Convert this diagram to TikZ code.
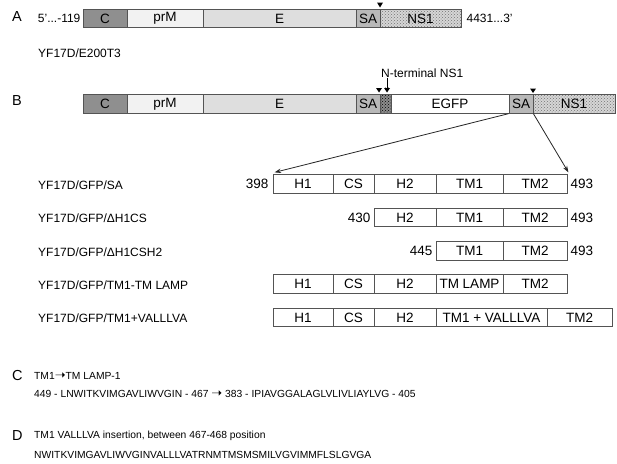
\documentclass[tikz,border=0pt]{standalone}
\usepackage{fontspec}
\setmainfont{Liberation Sans}
\newfontfamily\symfont{DejaVu Sans}
\usetikzlibrary{arrows.meta,patterns}
\definecolor{edge}{gray}{0.33}
\definecolor{cfill}{gray}{0.56}
\definecolor{prmfill}{gray}{0.95}
\definecolor{efill}{gray}{0.87}
\definecolor{safill}{gray}{0.72}
\definecolor{nsfill}{gray}{0.84}
\definecolor{nsdot}{gray}{0.45}
\definecolor{ntfill}{gray}{0.55}
\newcommand\barfont{\fontsize{13.5}{15}\selectfont}
\newcommand\lblfont{\fontsize{12}{13}\selectfont}
\newcommand\seqfont{\fontsize{10.3}{12}\selectfont}
\newcommand\letfont{\fontsize{14.5}{16}\selectfont}
\newcommand\rarr{{\symfont\fontsize{13}{12}\selectfont ➝}}
\begin{document}
\begin{tikzpicture}[x=1pt,y=-1pt,
  seg/.style={draw=edge, line width=0.8pt, inner sep=0pt, minimum height=18.5pt, font=\barfont, anchor=center},
  hatchfill/.style={preaction={fill=nsfill}, pattern=crosshatch dots, pattern color=nsdot},
  darkhatch/.style={preaction={fill=ntfill}, pattern=crosshatch dots, pattern color=black},
  txt/.style={inner sep=0pt, anchor=west, font=\lblfont},
  txtl/.style={inner sep=0pt, anchor=east, font=\lblfont},
  num/.style={inner sep=0pt, font=\barfont},
  seq/.style={inner sep=0pt, anchor=west, font=\seqfont},
  letter/.style={inner sep=0pt, anchor=west, font=\letfont},
  conn/.style={draw=black!85, line width=0.8pt, -{Stealth[length=6.5pt,width=4.5pt]}},
  tri/.style={fill=black}
]
\path[fill=white] (0,0) rectangle (617,463);

% ---------- A ----------
\node[letter] (la) at (12,17) {A};
\node[seg, fill=cfill, minimum width=44pt] (aC) at (105,18.5) {C};
\node[seg, fill=prmfill, minimum width=76pt] (aP) at (165,18.5) {prM};
\node[seg, fill=efill, minimum width=153pt] (aE) at (279.5,18.5) {E};
\node[seg, fill=safill, minimum width=24pt] (aS) at (368,18.5) {SA};
\node[seg, hatchfill, minimum width=81pt] (aN) at (420.5,18.5) {NS1};
\node[txtl] (a5) at ([xshift=-2pt]aC.west) {5'...-119};
\node[txt] (a3) at ([xshift=5pt]aN.east) {4431...3'};
\fill[tri] (377,2.5) -- (383,2.5) -- (380,7.5) -- cycle;
\node[txt] (aname) at (38,53) {YF17D/E200T3};

% ---------- B ----------
\node[letter] (lb) at (12,101) {B};
\node[seg, fill=cfill, minimum width=44pt] (bC) at (105,104) {C};
\node[seg, fill=prmfill, minimum width=76pt] (bP) at (165,104) {prM};
\node[seg, fill=efill, minimum width=153pt] (bE) at (279.5,104) {E};
\node[seg, fill=safill, minimum width=24pt] (bS) at (368,104) {SA};
\node[seg, darkhatch, minimum width=11pt] (bH) at (385.5,104) {};
\node[seg, fill=white, minimum width=118pt] (bG) at (450,104) {EGFP};
\node[seg, fill=safill, minimum width=24pt] (bS2) at (521,104) {SA};
\node[seg, hatchfill, minimum width=82pt] (bN) at (574,104) {NS1};
\node[txt] (nt) at (381,73) {N-terminal NS1};
\fill[tri] (376,88) -- (382,88) -- (379,92.5) -- cycle;
\fill[tri] (384,88) -- (390,88) -- (387,92.5) -- cycle;
\fill[tri] (530,88.5) -- (536,88.5) -- (533,93) -- cycle;
\draw[line width=0.7pt, -{Stealth[length=4pt,width=3.5pt]}] ([xshift=1.5pt]bH.north |- nt.south) -- ([xshift=1.5pt,yshift=3pt]bH.north);

% ---------- rows ----------
\node[txt] (n1) at (38,185) {YF17D/GFP/SA};
\node[txt] (n2) at (38,218) {YF17D/GFP/ΔH1CS};
\node[txt] (n3) at (38,252) {YF17D/GFP/ΔH1CSH2};
\node[txt] (n4) at (38,285) {YF17D/GFP/TM1-TM LAMP};
\node[txt] (n5) at (38,318) {YF17D/GFP/TM1+VALLLVA};

% row 1
\node[seg, minimum width=60pt] (r1a) at (303,184) {H1};
\node[seg, minimum width=41pt] (r1b) at (353.5,184) {CS};
\node[seg, minimum width=62pt] (r1c) at (405,184) {H2};
\node[seg, minimum width=67pt] (r1d) at (469.5,184) {TM1};
\node[seg, minimum width=64pt] (r1e) at (535,184) {TM2};
\node[num, anchor=east] (r1l) at ([xshift=-4pt]r1a.west) {398};
\node[num, anchor=west] (r1r) at ([xshift=3pt]r1e.east) {493};
% row 2
\node[seg, minimum width=62pt] (r2c) at (405,217.5) {H2};
\node[seg, minimum width=67pt] (r2d) at (469.5,217.5) {TM1};
\node[seg, minimum width=64pt] (r2e) at (535,217.5) {TM2};
\node[num, anchor=east] (r2l) at ([xshift=-3pt]r2c.west) {430};
\node[num, anchor=west] (r2r) at ([xshift=3pt]r2e.east) {493};
% row 3
\node[seg, minimum width=67pt] (r3d) at (469.5,251) {TM1};
\node[seg, minimum width=64pt] (r3e) at (535,251) {TM2};
\node[num, anchor=east] (r3l) at ([xshift=-3pt]r3d.west) {445};
\node[num, anchor=west] (r3r) at ([xshift=3pt]r3e.east) {493};
% row 4
\node[seg, minimum width=60pt] (r4a) at (303,284) {H1};
\node[seg, minimum width=41pt] (r4b) at (353.5,284) {CS};
\node[seg, minimum width=62pt] (r4c) at (405,284) {H2};
\node[seg, minimum width=67pt] (r4d) at (469.5,284) {TM LAMP};
\node[seg, minimum width=64pt] (r4e) at (535,284) {TM2};
% row 5
\node[seg, minimum width=60pt] (r5a) at (303,317.5) {H1};
\node[seg, minimum width=41pt] (r5b) at (353.5,317.5) {CS};
\node[seg, minimum width=62pt] (r5c) at (405,317.5) {H2};
\node[seg, minimum width=111pt] (r5d) at (491.5,317.5) {TM1 + VALLLVA};
\node[seg, minimum width=65pt] (r5e) at (579.5,317.5) {TM2};

% zoom connectors
\draw[conn] (bS2.south west) -- ([xshift=2pt,yshift=2pt]r1a.north west);
\draw[conn] (bS2.south east) -- ([xshift=1pt,yshift=2pt]r1e.north east);

% ---------- C ----------
\node[letter] (lc) at (12,375.5) {C};
\node[seq] (c1) at (34,375.5) {TM1\rarr TM LAMP-1};
\node[seq] (c2) at (34,393.5) {449 - LNWITKVIMGAVLIWVGIN - 467 \rarr{} 383 - IPIAVGGALAGLVLIVLIAYLVG - 405};

% ---------- D ----------
\node[letter] (ld) at (12,436) {D};
\node[seq] (d1) at (34,436) {TM1 VALLLVA insertion, between 467-468 position};
\node[seq] (d2) at (34,455) {NWITKVIMGAVLIWVGINVALLLVATRNMTMSMSMILVGVIMMFLSLGVGA};
\end{tikzpicture}
\end{document}
